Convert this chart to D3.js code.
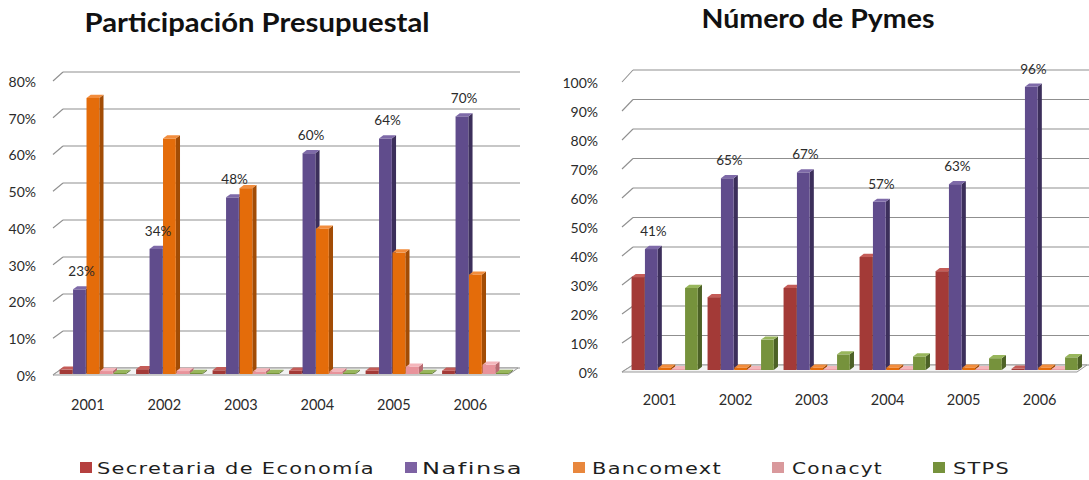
<!DOCTYPE html>
<html>
<head>
<meta charset="utf-8">
<script src="https://cdn.jsdelivr.net/npm/d3@7"></script>
<style>
  html, body { margin: 0; padding: 0; background: #fff; }
  svg { display: block; }
</style>
</head>
<body>
<svg id="chart" width="1089" height="480"></svg>
<script>
// Years shown on both charts
const years = ["2001", "2002", "2003", "2004", "2005", "2006"];

// Series names (legend order = order of bars inside each group)
const seriesNames = ["Secretaria de Economía", "Nafinsa", "Bancomext", "Conacyt", "STPS"];

// Participación Presupuestal (%)
const presSecretaria = [1.2, 1.3, 1.0, 0.9, 0.9, 0.9];
const presNafinsa    = [23, 34, 48, 60, 64, 70];
const presBancomext  = [75, 64, 50.5, 39.5, 33, 27];
const presConacyt    = [0.8, 0.8, 0.7, 0.7, 2.0, 2.5];
const presStps       = [0.3, 0.3, 0.3, 0.3, 0.3, 0.3];
const presTicks      = [0, 10, 20, 30, 40, 50, 60, 70, 80];

// Número de Pymes (%)
const pymesSecretaria = [31.5, 24.7, 27.8, 38.3, 33.5, 0.4];
const pymesNafinsa    = [41, 65, 67, 57, 63, 96];
const pymesBancomext  = [0.8, 0.8, 0.8, 0.8, 0.8, 0.8];
const pymesConacyt    = [0.3, 0.3, 0.3, 0.3, 0.3, 0.3];
const pymesStps       = [27.8, 10.3, 5.3, 4.6, 4.0, 4.3];
const pymesTicks      = [0, 10, 20, 30, 40, 50, 60, 70, 80, 90, 100];

// Face colours for the 3D columns: front, side, top
const palette = [
  { front: "#a33a37", side: "#6b2220", top: "#c45c58", key: "#b5403f" },
  { front: "#604c8c", side: "#3c2f5b", top: "#7e6aa8", key: "#7d62a3" },
  { front: "#e46c0a", side: "#a24c05", top: "#f28d3d", key: "#e8873d" },
  { front: "#e8939b", side: "#b86a71", top: "#f4b6bb", key: "#d9999c" },
  { front: "#76923c", side: "#4c6126", top: "#98b65c", key: "#76923c" }
];

const svg = d3.select("#chart");
const FONT = "Lato, 'Open Sans', sans-serif";

function drawChart(cfg) {
  const g = svg.append("g");
  const series = cfg.series;
  const maxV = cfg.ticks[cfg.ticks.length - 1];

  const x = d3.scaleBand().domain(years).range(cfg.xRange).paddingInner(0.12).paddingOuter(0.06);
  const xs = d3.scaleBand().domain(d3.range(series.length)).range([0, x.bandwidth()]);
  const yBar = d3.scaleLinear().domain([0, maxV]).range(cfg.yBar);
  const yFront = d3.scaleLinear().domain([0, maxV]).range(cfg.yFront);
  const yBack = d3.scaleLinear().domain([0, maxV]).range(cfg.yBack);

  // back wall gridlines with their short perspective stubs
  g.selectAll("line.grid").data(cfg.ticks).join("line")
    .attr("class", "grid")
    .attr("x1", cfg.wallX).attr("x2", cfg.gridEnd)
    .attr("y1", d => yBack(d)).attr("y2", d => yBack(d))
    .attr("stroke", "#8f8f8f").attr("stroke-width", 1.2);
  g.selectAll("line.stub").data(cfg.ticks).join("line")
    .attr("class", "stub")
    .attr("x1", cfg.stubX).attr("x2", cfg.wallX)
    .attr("y1", d => yFront(d)).attr("y2", d => yBack(d))
    .attr("stroke", "#8f8f8f").attr("stroke-width", 1.1);

  // floor
  const f = cfg.floor;
  g.append("polygon")
    .attr("points", [[f.x0, yFront(0)], [f.x1, yFront(0)], [f.x1 + f.dx, yBack(0)], [cfg.wallX, yBack(0)]].map(p => p.join(",")).join(" "))
    .attr("fill", "#f3f3f3").attr("stroke", "#9a9a9a").attr("stroke-width", 1);

  // y axis labels
  const yAxis = d3.axisLeft(yFront).tickValues(cfg.ticks).tickSize(0).tickPadding(0).tickFormat(d => d + "%");
  const ya = g.append("g").attr("transform", `translate(${cfg.labelX},1)`).call(yAxis);
  ya.select(".domain").remove();
  ya.selectAll("text").attr("font-family", FONT).attr("font-size", 14).attr("fill", "#2b2b2b");

  // x axis labels
  const xAxis = d3.axisBottom(x).tickSize(0).tickPadding(0);
  const xa = g.append("g").attr("transform", `translate(${-0.08 * x.bandwidth()},${cfg.yearY})`).call(xAxis);
  xa.select(".domain").remove();
  xa.selectAll("text").attr("font-family", FONT).attr("font-size", 14.5).attr("fill", "#2b2b2b");

  // 3D columns, drawn left to right so each bar covers its neighbour's side face
  const w = xs.bandwidth() * 0.95, d = 4.2, dd = 3.2;
  const base = yBar(0);
  years.forEach((yr, i) => {
    series.forEach((vals, j) => {
      const v = vals[i];
      const x0 = x(yr) + xs(j), x1 = x0 + w, yt = yBar(v);
      const c = palette[j];
      const bar = g.append("g");
      bar.append("polygon")
        .attr("points", [[x1, yt], [x1 + d, yt - dd], [x1 + d, base - dd], [x1, base]].map(p => p.join(",")).join(" "))
        .attr("fill", c.side);
      bar.append("rect")
        .attr("x", x0).attr("y", yt).attr("width", w).attr("height", base - yt)
        .attr("fill", c.front);
      bar.append("polygon")
        .attr("points", [[x0, yt], [x1, yt], [x1 + d, yt - dd], [x0 + d, yt - dd]].map(p => p.join(",")).join(" "))
        .attr("fill", c.top);
    });
  });

  // value labels for Nafinsa
  const lab = series[1];
  g.selectAll("text.val").data(years).join("text")
    .attr("class", "val")
    .attr("x", yr => x(yr) + xs(1) + (w + d) / 2)
    .attr("y", (yr, i) => yBar(lab[i]) - 13)
    .attr("text-anchor", "middle")
    .attr("font-family", FONT).attr("font-size", 13.5).attr("fill", "#2b2b2b")
    .text((yr, i) => lab[i] + "%");

  // title
  svg.append("text")
    .attr("x", cfg.title.x).attr("y", cfg.title.y)
    .attr("text-anchor", "middle")
    .attr("font-family", FONT).attr("font-weight", 700).attr("font-size", 27)
    .attr("fill", "#111")
    .attr("textLength", cfg.title.len).attr("lengthAdjust", "spacingAndGlyphs")
    .text(cfg.title.text);
}

drawChart({
  series: [presSecretaria, presNafinsa, presBancomext, presConacyt, presStps],
  ticks: presTicks,
  xRange: [55, 514],
  yBar: [374, 79.6],
  yFront: [375, 81],
  yBack: [368, 72],
  stubX: 53, wallX: 63, gridEnd: 520,
  floor: { x0: 53, x1: 508, dx: 10 },
  labelX: 36,
  yearY: 400,
  title: { x: 257, y: 32, len: 345, text: "Participación Presupuestal" }
});

drawChart({
  series: [pymesSecretaria, pymesNafinsa, pymesBancomext, pymesConacyt, pymesStps],
  ticks: pymesTicks,
  xRange: [627, 1083],
  yBar: [370, 75],
  yFront: [372, 82],
  yBack: [365, 70],
  stubX: 622, wallX: 633, gridEnd: 1089,
  floor: { x0: 622, x1: 1077, dx: 10 },
  labelX: 598,
  yearY: 395,
  title: { x: 818, y: 28, len: 233, text: "Número de Pymes" }
});

// legend
const legendPos = [
  { sq: 80, tx: 97, len: 278 },
  { sq: 405, tx: 422, len: 101 },
  { sq: 573, tx: 592, len: 130 },
  { sq: 772, tx: 792, len: 91 },
  { sq: 933, tx: 953, len: 57 }
];
const legend = svg.append("g");
seriesNames.forEach((name, j) => {
  const p = legendPos[j];
  legend.append("rect")
    .attr("x", p.sq).attr("y", 462).attr("width", 12).attr("height", 11)
    .attr("fill", palette[j].key);
  legend.append("text")
    .attr("x", p.tx).attr("y", 474)
    .attr("font-family", "'DejaVu Sans', Verdana, sans-serif").attr("font-size", 16)
    .attr("letter-spacing", 1)
    .attr("fill", "#1e1e1e")
    .attr("textLength", p.len).attr("lengthAdjust", "spacingAndGlyphs")
    .text(name);
});
</script>
</body>
</html>
